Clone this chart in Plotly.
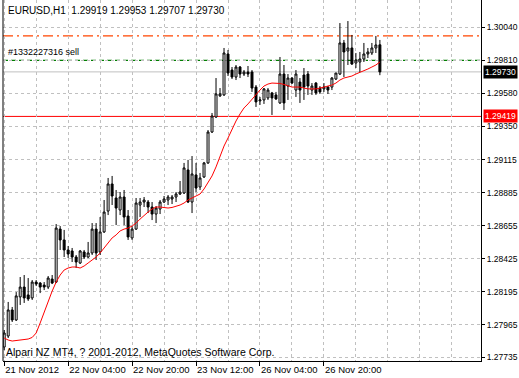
import plotly.graph_objects as go

# ---------------- data (EURUSD H1) ----------------
bars = list(range(95))
opens = [1.27808, 1.27885, 1.28067, 1.27997, 1.28158, 1.28227, 1.28172, 1.28151, 1.28262, 1.28255,
         1.28241, 1.28227, 1.28283, 1.28262, 1.28632, 1.28556, 1.28486, 1.28479, 1.28437, 1.28395,
         1.28472, 1.28437, 1.28465, 1.28632, 1.28472, 1.28612, 1.28758, 1.28947, 1.28849, 1.28765,
         1.28856, 1.28723, 1.28570, 1.28632, 1.28800, 1.28821, 1.28821, 1.28786, 1.28737, 1.28772,
         1.28821, 1.28835, 1.28842, 1.28856, 1.28877, 1.28884, 1.29045, 1.28821, 1.29010, 1.28926,
         1.28996, 1.29094, 1.29310, 1.29415, 1.29562, 1.29569, 1.29855, 1.29743, 1.29694, 1.29764,
         1.29715, 1.29729, 1.29729, 1.29624, 1.29527, 1.29534, 1.29548, 1.29583, 1.29569, 1.29513,
         1.29715, 1.29631, 1.29687, 1.29603, 1.29659, 1.29708, 1.29715, 1.29603, 1.29652, 1.29617,
         1.29611, 1.29624, 1.29624, 1.29680, 1.29715, 1.29932, 1.29876, 1.29897, 1.29792, 1.29799,
         1.29820, 1.29855, 1.29862, 1.29897, 1.29919]
highs = [1.27927, 1.28123, 1.28088, 1.28192, 1.28297, 1.28311, 1.28290, 1.28276, 1.28276, 1.28262,
         1.28262, 1.28304, 1.28311, 1.28667, 1.28653, 1.28626, 1.28514, 1.28500, 1.28451, 1.28486,
         1.28486, 1.28542, 1.28674, 1.28674, 1.28716, 1.28835, 1.28989, 1.29003, 1.28905, 1.28891,
         1.28905, 1.28765, 1.28653, 1.28849, 1.28849, 1.28856, 1.28835, 1.28821, 1.28793, 1.28835,
         1.28863, 1.28870, 1.28870, 1.28891, 1.28968, 1.29094, 1.29115, 1.29142, 1.29094, 1.29024,
         1.29101, 1.29324, 1.29443, 1.29687, 1.29617, 1.29897, 1.29883, 1.29764, 1.29778, 1.29771,
         1.29743, 1.29771, 1.29743, 1.29638, 1.29555, 1.29617, 1.29617, 1.29590, 1.29590, 1.29834,
         1.29778, 1.29715, 1.29694, 1.29743, 1.29687, 1.29757, 1.29736, 1.29652, 1.29659, 1.29631,
         1.29652, 1.29631, 1.29694, 1.29722, 1.30071, 1.29953, 1.30085, 1.29988, 1.29862, 1.29869,
         1.29932, 1.29897, 1.29932, 1.29981, 1.29953]
lows = [1.27787, 1.27871, 1.27983, 1.27990, 1.28102, 1.28116, 1.28130, 1.28137, 1.28234, 1.28185,
        1.28206, 1.28213, 1.28248, 1.28255, 1.28486, 1.28437, 1.28430, 1.28402, 1.28360, 1.28388,
        1.28423, 1.28430, 1.28451, 1.28416, 1.28451, 1.28605, 1.28730, 1.28800, 1.28660, 1.28730,
        1.28660, 1.28556, 1.28556, 1.28626, 1.28716, 1.28786, 1.28744, 1.28695, 1.28674, 1.28737,
        1.28814, 1.28800, 1.28807, 1.28821, 1.28870, 1.28877, 1.28814, 1.28744, 1.28891, 1.28905,
        1.28989, 1.29087, 1.29303, 1.29408, 1.29555, 1.29562, 1.29701, 1.29680, 1.29673, 1.29687,
        1.29701, 1.29694, 1.29590, 1.29485, 1.29499, 1.29506, 1.29534, 1.29429, 1.29534, 1.29506,
        1.29464, 1.29534, 1.29645, 1.29555, 1.29513, 1.29534, 1.29569, 1.29569, 1.29569, 1.29576,
        1.29590, 1.29576, 1.29603, 1.29673, 1.29708, 1.29694, 1.29778, 1.29778, 1.29757, 1.29729,
        1.29799, 1.29827, 1.29848, 1.29862, 1.29707]
closes = [1.27906, 1.28067, 1.27997, 1.28165, 1.28227, 1.28151, 1.28144, 1.28262, 1.28248, 1.28227,
          1.28227, 1.28290, 1.28255, 1.28639, 1.28556, 1.28486, 1.28458, 1.28437, 1.28402, 1.28479,
          1.28437, 1.28465, 1.28632, 1.28465, 1.28612, 1.28751, 1.28947, 1.28863, 1.28779, 1.28856,
          1.28716, 1.28577, 1.28632, 1.28814, 1.28821, 1.28835, 1.28786, 1.28737, 1.28779, 1.28821,
          1.28842, 1.28856, 1.28856, 1.28877, 1.28891, 1.29059, 1.28821, 1.29017, 1.28919, 1.28989,
          1.29094, 1.29310, 1.29422, 1.29576, 1.29576, 1.29862, 1.29722, 1.29694, 1.29764, 1.29715,
          1.29729, 1.29715, 1.29617, 1.29520, 1.29534, 1.29611, 1.29603, 1.29548, 1.29541, 1.29715,
          1.29513, 1.29687, 1.29652, 1.29715, 1.29603, 1.29624, 1.29631, 1.29631, 1.29583, 1.29590,
          1.29624, 1.29603, 1.29687, 1.29722, 1.29932, 1.29869, 1.29897, 1.29785, 1.29813, 1.29820,
          1.29855, 1.29869, 1.29897, 1.29918, 1.29730]
ma_values = [1.27871, 1.27857, 1.27850, 1.27854, 1.27857, 1.27861, 1.27864, 1.27875, 1.27906, 1.27976,
             1.28053, 1.28123, 1.28199, 1.28262, 1.28311, 1.28346, 1.28360, 1.28367, 1.28367, 1.28360,
             1.28374, 1.28395, 1.28416, 1.28437, 1.28465, 1.28500, 1.28542, 1.28570, 1.28591, 1.28619,
             1.28632, 1.28639, 1.28653, 1.28674, 1.28702, 1.28730, 1.28751, 1.28772, 1.28786, 1.28786,
             1.28783, 1.28779, 1.28783, 1.28790, 1.28800, 1.28814, 1.28835, 1.28849, 1.28863, 1.28877,
             1.28912, 1.28954, 1.29003, 1.29066, 1.29142, 1.29212, 1.29268, 1.29331, 1.29387, 1.29436,
             1.29478, 1.29506, 1.29541, 1.29569, 1.29603, 1.29631, 1.29645, 1.29652, 1.29652, 1.29649,
             1.29642, 1.29631, 1.29624, 1.29624, 1.29624, 1.29617, 1.29611, 1.29611, 1.29611, 1.29617,
             1.29624, 1.29631, 1.29638, 1.29652, 1.29673, 1.29687, 1.29694, 1.29701, 1.29715, 1.29726,
             1.29736, 1.29750, 1.29764, 1.29778, 1.29799]

y_ticks = [1.30040, 1.29810, 1.29580, 1.29350, 1.29115, 1.28885, 1.28655, 1.28425, 1.28195, 1.27965, 1.27735]
y_tick_text = ["1.30040", "1.29810", "1.29580", "1.29350", "1.29115", "1.28885",
               "1.28655", "1.28425", "1.28195", "1.27965", "1.27735"]
x_tick_pos = [0, 16, 32, 48, 64, 80]
x_tick_text = ["21 Nov 2012", "22 Nov 04:00", "22 Nov 20:00", "23 Nov 12:00", "26 Nov 04:00", "26 Nov 20:00"]

symbol_title = "EURUSD,H1  1.29919 1.29953 1.29707 1.29730"
order_label = "#1332227316 sell"
footer_text = "Alpari NZ MT4, ? 2001-2012, MetaQuotes Software Corp."
order_level = 1.29810
dashdot_level = 1.29981
bid_level = 1.29730
red_level = 1.29419

# ---------------- figure ----------------
FONT = "Liberation Sans, Arial, sans-serif"

fig = go.Figure()

fig.add_trace(go.Candlestick(
    x=bars, open=opens, high=highs, low=lows, close=closes,
    increasing=dict(fillcolor="white", line=dict(color="black", width=1)),
    decreasing=dict(fillcolor="black", line=dict(color="black", width=1)),
    whiskerwidth=0, showlegend=False, hoverinfo="skip"))

fig.add_trace(go.Scatter(x=bars, y=ma_values, mode="lines",
                         line=dict(color="#ff0000", width=1), showlegend=False, hoverinfo="skip"))

shapes = [
    dict(type="line", xref="paper", x0=0, x1=1, yref="y", y0=bid_level, y1=bid_level,
         line=dict(color="#c0c0c0", width=1), layer="below"),
    dict(type="line", xref="paper", x0=0, x1=1, yref="y", y0=red_level, y1=red_level,
         line=dict(color="#ff0000", width=1), layer="below"),
    dict(type="line", xref="paper", x0=0, x1=1, yref="y", y0=order_level, y1=order_level,
         line=dict(color="#008000", width=1.3, dash="5px,3px"), layer="below"),
    dict(type="line", xref="paper", x0=0, x1=1, yref="y", y0=dashdot_level, y1=dashdot_level,
         line=dict(color="#ff4500", width=1.3, dash="10px,4px,2px,4px"), layer="below"),
]

annotations = [
    dict(text=symbol_title, xref="paper", yref="paper", x=0, y=1, xanchor="left", yanchor="top",
         xshift=3, yshift=-3, showarrow=False, font=dict(family=FONT, size=10, color="black")),
    dict(text=order_label, xref="paper", yref="y", x=0, y=order_level, xanchor="left", yanchor="bottom",
         xshift=3, yshift=1, showarrow=False, font=dict(family=FONT, size=9, color="black")),
    dict(text=footer_text, xref="paper", yref="paper", x=0, y=0, xanchor="left", yanchor="bottom",
         xshift=1, yshift=1, showarrow=False, font=dict(family=FONT, size=10.5, color="black")),
    dict(text=f"{bid_level:.5f}", xref="paper", yref="y", x=1, y=bid_level, xanchor="left", yanchor="middle",
         xshift=2, showarrow=False, bgcolor="black", borderpad=1,
         font=dict(family=FONT, size=8.5, color="white")),
    dict(text=f"{red_level:.5f}", xref="paper", yref="y", x=1, y=red_level, xanchor="left", yanchor="middle",
         xshift=2, showarrow=False, bgcolor="#ff0000", borderpad=1,
         font=dict(family=FONT, size=8.5, color="white")),
]

fig.update_layout(
    width=519, height=378,
    margin=dict(l=3, r=38, t=0, b=17, autoexpand=False),
    paper_bgcolor="white", plot_bgcolor="white",
    shapes=shapes, annotations=annotations,
    showlegend=False,
    xaxis=dict(
        range=[-0.3, 119.3], rangeslider=dict(visible=False),
        tickmode="array", tickvals=x_tick_pos, ticktext=x_tick_text,
        ticks="outside", ticklen=4, tickcolor="black", tickwidth=1,
        ticklabelposition="outside right", tickangle=0, automargin=False,
        tickfont=dict(family=FONT, size=9.5, color="black"),
        showline=True, linecolor="black", linewidth=1, mirror=False,
        showgrid=True, gridcolor="#c0c0c0", griddash="3px,3px", gridwidth=1,
        minor=dict(tickmode="linear", tick0=0, dtick=8, showgrid=True, gridcolor="#c0c0c0",
                   griddash="3px,3px", ticklen=0),
        zeroline=False, fixedrange=True,
    ),
    yaxis=dict(
        side="right", range=[1.277105, 1.302321], automargin=False,
        tickmode="array", tickvals=y_ticks, ticktext=y_tick_text,
        ticks="outside", ticklen=3, tickcolor="black", tickwidth=1,
        tickfont=dict(family=FONT, size=8.5, color="black"),
        showline=True, linecolor="black", linewidth=1,
        showgrid=True, gridcolor="#c0c0c0", griddash="3px,3px", gridwidth=1,
        zeroline=False, fixedrange=True,
    ),
)

# left frame border
fig.add_shape(type="line", xref="paper", yref="paper", x0=0, x1=0, y0=0, y1=1,
              line=dict(color="black", width=1))

fig.write_html("out.html", config={"displayModeBar": False},
               post_script="document.body.style.margin='0';document.body.style.overflow='hidden';")
